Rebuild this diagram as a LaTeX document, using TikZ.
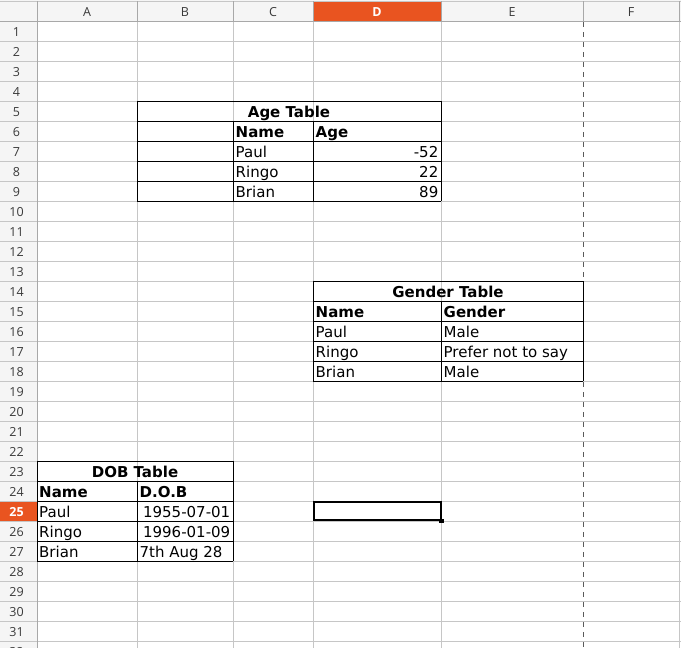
\documentclass[tikz,border=0pt]{standalone}
\usepackage{fontspec}
\setmainfont{DejaVu Sans}
\newfontfamily\hdrfont{Open Sans}
\definecolor{gridgray}{HTML}{C6C6C6}
\definecolor{hdrbg}{HTML}{F5F5F5}
\definecolor{hdrline}{HTML}{A8A8A8}
\definecolor{hdrtext}{HTML}{3A3A3A}
\definecolor{selorange}{HTML}{E95420}
\definecolor{pagebreak}{HTML}{5A5A5A}
\tikzset{
  gridline/.style={draw=gridgray, line width=1pt},
  hdrsep/.style={draw=hdrline, line width=1pt},
  border/.style={draw=black, line width=1pt},
  cellfont/.style={inner sep=0pt, text=black, font=\fontsize{15}{18}\selectfont},
  boldfont/.style={inner sep=0pt, text=black, font=\fontsize{15}{18}\selectfont\bfseries},
  lt/.style={cellfont, anchor=base west},
  rt/.style={cellfont, anchor=base east},
  blt/.style={boldfont, anchor=base west},
  bct/.style={boldfont, anchor=base},
  colhdr/.style={inner sep=0pt, anchor=base, text=hdrtext, font=\hdrfont\fontsize{12.5}{15}\selectfont},
  colhdrsel/.style={inner sep=0pt, anchor=base, text=white, font=\hdrfont\fontsize{12.5}{15}\selectfont\bfseries},
}
\begin{document}
\begin{tikzpicture}[x=1pt,y=-1pt]
\useasboundingbox (0,0) rectangle (681,648);
\clip (0,0) rectangle (681,648);
% backgrounds
\fill[white] (0,0) rectangle (681,648);
\fill[hdrbg] (0,0) rectangle (681,21);
\fill[hdrbg] (0,21) rectangle (37,648);
\fill[selorange] (313,2) rectangle (441,21);
\fill[selorange] (0,501) rectangle (37,521);
% grid
\foreach \k in {1,...,31} \draw[gridline] (37,{21+20*\k}) -- (681,{21+20*\k});
\foreach \x in {137,233,313,441,679} \draw[gridline] (\x,21) -- (\x,648);
\foreach \k in {1,...,31} \draw[gridline] (0,{21+20*\k}) -- (37,{21+20*\k});
% page break
\draw[pagebreak, line width=1pt, dash pattern=on 5pt off 5pt] (583,22) -- (583,648);
% header lines
\draw[gridgray, line width=1pt] (0,1) -- (681,1);
\foreach \x in {137,233,313,441,583,679} \draw[hdrsep] (\x,1) -- (\x,21);
\draw[hdrsep] (0,21) -- (681,21);
\draw[hdrsep] (37,1) -- (37,648);
% column headers
\node[colhdr] (hA) at (87,16) {A};
\node[colhdr] (hB) at (185,16) {B};
\node[colhdr] (hC) at (273,16) {C};
\node[colhdrsel] (hD) at (377,16) {D};
\node[colhdr] (hE) at (512,16) {E};
\node[colhdr] (hF) at (631,16) {F};
% row headers
\foreach \n in {1,...,24,26,27,28,29,30,31,32}
  \node[colhdr] (r\n) at (16.5,{16.5+20*\n}) {\n};
\node[colhdrsel] (r25) at (16.5,516.5) {25};
% Age table borders
\foreach \y in {101,121,141,161,181,201} \draw[border] (137,\y) -- (441,\y);
\draw[border] (137,101) -- (137,201);
\draw[border] (441,101) -- (441,201);
\draw[border] (233,121) -- (233,201);
\draw[border] (313,121) -- (313,201);
% Gender table borders
\foreach \y in {281,301,321,341,361,381} \draw[border] (313,\y) -- (583,\y);
\draw[border] (313,281) -- (313,381);
\draw[border] (583,281) -- (583,381);
\draw[border] (441,301) -- (441,381);
% DOB table borders
\foreach \y in {461,481,501,521,541,561} \draw[border] (37,\y) -- (233,\y);
\draw[border] (37,461) -- (37,561);
\draw[border] (233,461) -- (233,561);
\draw[border] (137,481) -- (137,561);
% Age table text
\node[bct] (agetitle) at (289,117) {Age Table};
\node[blt] (agename) at (235.5,137) {Name};
\node[blt] (ageage) at (315.5,137) {Age};
\node[lt] (agepaul) at (235.5,157) {Paul};
\node[lt] (ageringo) at (235.5,177) {Ringo};
\node[lt] (agebrian) at (235.5,197) {Brian};
\node[rt] (agev1) at (438.5,157) {-52};
\node[rt] (agev2) at (438.5,177) {22};
\node[rt] (agev3) at (438.5,197) {89};
% Gender table text
\node[bct] (gentitle) at (448,297) {Gender Table};
\node[blt] (genname) at (315.5,317) {Name};
\node[blt] (gengender) at (443.5,317) {Gender};
\node[lt] (genpaul) at (315.5,337) {Paul};
\node[lt] (genringo) at (315.5,357) {Ringo};
\node[lt] (genbrian) at (315.5,377) {Brian};
\node[lt] (genv1) at (443.5,337) {Male};
\node[lt] (genv2) at (443.5,357) {Prefer not to say};
\node[lt] (genv3) at (443.5,377) {Male};
% DOB table text
\node[bct] (dobtitle) at (135,477) {DOB Table};
\node[blt] (dobname) at (39,497) {Name};
\node[blt] (dobdob) at (139.5,497) {D.O.B};
\node[lt] (dobpaul) at (39,517) {Paul};
\node[lt] (dobringo) at (39,537) {Ringo};
\node[lt] (dobbrian) at (39,557) {Brian};
\node[rt] (dobv1) at (230.5,517) {1955-07-01};
\node[rt] (dobv2) at (230.5,537) {1996-01-09};
\node[lt] (dobv3) at (139.5,557) {7th Aug 28};
% selected cell D25
\draw[black, line width=2pt] (314.3,502.3) rectangle (441,520.3);
\fill[black] (439.3,518.5) rectangle (443.8,523.3);
\end{tikzpicture}
\end{document}
